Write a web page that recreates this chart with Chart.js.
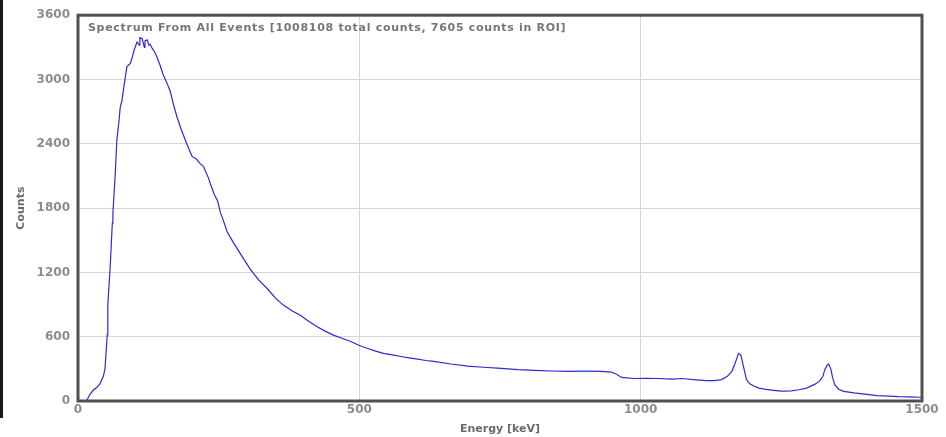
<!DOCTYPE html>
<html>
<head>
<meta charset="utf-8">
<script src="https://cdn.jsdelivr.net/npm/chart.js@4/dist/chart.umd.min.js"></script>
<style>
  html, body { margin: 0; padding: 0; background: #ffffff; }
  #wrap { width: 946px; height: 437px; position: relative; }
</style>
</head>
<body>
<div id="wrap"><canvas id="c" width="946" height="437"></canvas></div>
<script>
// Gamma spectrum (counts per channel vs. deposited energy)
const spectrumTitle = "Spectrum From All Events [1008108 total counts, 7605 counts in ROI]";

const energyKeV = [
  12, 16, 21, 27, 34, 39, 45, 48, 52, 53, 57, 61, 62, 66, 69, 73, 75, 78, 82, 87,
  93, 96, 100, 105, 109, 110, 114, 118, 119, 123, 126, 128, 132, 137, 141, 146, 151, 157, 164, 169,
  176, 183, 191, 198, 203, 210, 217, 223, 226, 232, 235, 242, 248, 253, 258, 265, 276, 289, 306, 321,
  337, 351, 365, 381, 395, 410, 426, 440, 454, 469, 485, 499, 515, 529, 543, 559, 574, 591, 604, 618,
  632, 663, 693, 721, 752, 782, 811, 841, 871, 900, 930, 948, 957, 966, 989, 1010, 1031, 1055, 1073, 1099,
  1117, 1131, 1144, 1154, 1162, 1167, 1171, 1174, 1178, 1181, 1185, 1188, 1194, 1201, 1210, 1220, 1236, 1251, 1268, 1281,
  1295, 1309, 1318, 1324, 1327, 1331, 1334, 1338, 1341, 1345, 1352, 1361, 1379, 1398, 1420, 1441, 1459, 1477, 1495, 1500
];

const counts = [
  0, 10, 60, 100, 130, 160, 230, 300, 620, 900, 1230, 1660, 1750, 2100, 2430, 2620, 2740, 2800, 2950, 3120,
  3150, 3200, 3280, 3350, 3320, 3390, 3380, 3300, 3360, 3370, 3320, 3330, 3290, 3250, 3200, 3130, 3050, 2980, 2890, 2780,
  2650, 2540, 2430, 2340, 2280, 2260, 2215, 2190, 2150, 2080, 2030, 1930, 1870, 1760, 1690, 1580, 1480, 1370, 1230, 1130,
  1045, 960, 895, 840, 800, 745, 690, 650, 615, 585, 555, 520, 490, 465, 445, 430, 415, 400, 390, 378,
  370, 345, 325, 315, 305, 292, 285, 280, 277, 278, 277, 270, 250, 220, 210, 212, 210, 205, 210, 198,
  190, 190, 200, 230, 277, 340, 400, 443, 430, 360, 270, 200, 160, 140, 120, 110, 100, 92, 95, 105,
  120, 155, 185, 230, 290, 330, 345, 300, 220, 150, 110, 90, 75, 65, 50, 45, 40, 38, 35, 30
];

const xTickValues = [0, 500, 1000, 1500];
const yTickValues = [0, 600, 1200, 1800, 2400, 3000, 3600];

const points = energyKeV.map((e, i) => ({ x: e, y: counts[i] }));

const tickFont = { family: "DejaVu Sans", size: 12, weight: "bold" };
const labelFont = { family: "DejaVu Sans", size: 11, weight: "bold" };

// Heavy frame around the plot area, the dark strip at the left edge, and the in-plot caption
const framePlugin = {
  id: "spectrumFrame",
  afterDraw(chart) {
    const { ctx, chartArea: a } = chart;
    ctx.save();
    ctx.fillStyle = "#1a1a1a";
    ctx.fillRect(0, 0, 3, 418);
    ctx.strokeStyle = "#505050";
    ctx.lineWidth = 3;
    ctx.strokeRect(a.left, a.top, a.right - a.left, a.bottom - a.top);
    ctx.fillStyle = "#767676";
    ctx.font = "bold 11px 'DejaVu Sans'";
    ctx.letterSpacing = "0.7px";
    ctx.textBaseline = "middle";
    ctx.textAlign = "left";
    ctx.fillText(spectrumTitle, a.left + 10, a.top + 13);
    ctx.restore();
  }
};

new Chart(document.getElementById("c"), {
  type: "line",
  data: {
    datasets: [{
      data: points,
      borderColor: "#2a2ad6",
      borderWidth: 1.2,
      pointRadius: 0,
      tension: 0,
      fill: false
    }]
  },
  options: {
    responsive: false,
    devicePixelRatio: 1,
    animation: false,
    events: [],
    layout: { padding: { top: 10, right: 24, left: 0, bottom: 0 } },
    plugins: { legend: { display: false }, tooltip: { enabled: false }, title: { display: false } },
    scales: {
      x: {
        type: "linear",
        min: 0,
        max: 1500,
        afterBuildTicks: s => { s.ticks = xTickValues.map(v => ({ value: v })); },
        afterFit: s => { s.height = 36; },
        grid: { color: "#d6d6d6", lineWidth: 1, drawTicks: false },
        border: { display: false },
        ticks: { font: tickFont, color: "#8c8c8c", padding: 2, maxRotation: 0, autoSkip: false, callback: v => String(v) },
        title: { display: true, text: "Energy [keV]", font: labelFont, color: "#6a6a6a", padding: { top: 0, bottom: 1 } }
      },
      y: {
        type: "linear",
        min: 0,
        max: 3600,
        afterBuildTicks: s => { s.ticks = yTickValues.map(v => ({ value: v })); },
        afterFit: s => { s.width = 78; },
        grid: { color: "#d6d6d6", lineWidth: 1, drawTicks: false },
        border: { display: false },
        ticks: { font: tickFont, color: "#8c8c8c", padding: 8, autoSkip: false, callback: v => String(v) },
        title: { display: true, text: "Counts", font: labelFont, color: "#6a6a6a", padding: { top: 15, bottom: 0 } }
      }
    }
  },
  plugins: [framePlugin]
});
</script>
</body>
</html>
